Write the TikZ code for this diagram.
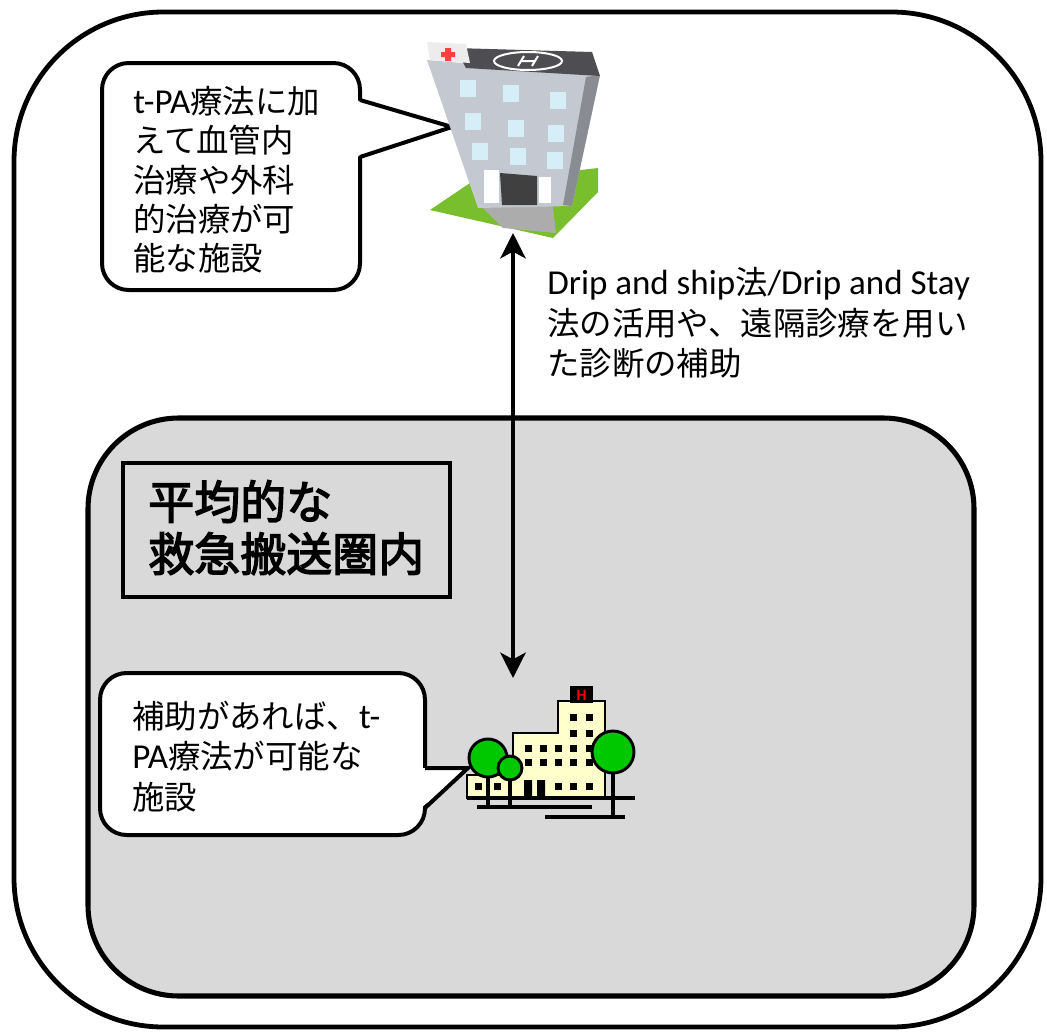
\documentclass[tikz,border=0pt]{standalone}
\usepackage{fontspec}
\setmainfont{Noto Sans CJK JP}
\newfontfamily\lat[Scale=1.08]{Carlito}
\newfontfamily\heavy[FakeBold=3]{Noto Sans CJK JP}
\usetikzlibrary{arrows.meta, fit}

\definecolor{zone}{RGB}{217,217,217}
\definecolor{lawn}{RGB}{120,190,45}
\definecolor{wall}{RGB}{196,200,208}
\definecolor{pane}{RGB}{214,238,248}
\definecolor{roof}{RGB}{78,78,82}
\definecolor{leaf}{RGB}{0,200,0}
\definecolor{cream}{RGB}{255,255,204}

\begin{document}
\begin{tikzpicture}[x=0.75pt, y=-0.75pt,
    bubble/.style={draw, fill=white, line width=3pt, rounded corners=20pt, inner sep=0pt},
    bubbleline/.style={line width=3pt, line join=miter},
    note/.style={anchor=north west, inner sep=0pt, align=left, font=\fontsize{24.3}{29.5}\selectfont},
    link/.style={line width=3pt, {Stealth[length=19pt,width=19pt,inset=5pt]}-{Stealth[length=19pt,width=19pt,inset=5pt]}},
    outline/.style={line width=2.2pt, line join=miter}]
  \useasboundingbox (0,0) rectangle (1047,1032);

  % outer region and transport area
  \draw[line width=3.6pt, rounded corners=112pt] (14,12) rectangle (1041,1027);
  \draw[line width=3.8pt, fill=zone, rounded corners=68pt] (88,418) rectangle (974,996);

  \node[draw, line width=3pt, inner sep=0pt, fit={(123,463) (450,597)}] (areabox) {};
  \node[anchor=north west, inner sep=0pt, align=left, font=\heavy\fontsize{34.5}{39}\selectfont]
    (areatext) at (148,480) {平均的な\\救急搬送圏内};

  % callout of the stroke centre
  \node[bubble, fit={(102,63) (360,290)}] (farnote) {};
  \coordinate (fartip) at (452,127);
  \fill[white] (356,100) -- (fartip) -- (356,157) -- cycle;
  \draw[bubbleline] (360,100) -- (fartip) -- (360,157);
  \node[note] (fartext) at (133,86) {{\lat t-PA}療法に加\\えて血管内\\治療や外科\\的治療が可\\能な施設};

  % callout of the local hospital
  \node[bubble, fit={(100,673) (425,835)}] (nearnote) {};
  \coordinate (neartip) at (468,768);
  \fill[white] (421,768) -- (neartip) -- (421,808) -- cycle;
  \draw[bubbleline] (425,768) -- (neartip) -- (425,808);
  \node[note, font=\fontsize{24.3}{30.2}\selectfont] (neartext) at (132,701) {補助があれば、{\lat t-}\\{\lat PA}療法が可能な\\施設};

  \node[note, font=\fontsize{24.3}{30.5}\selectfont] (linktext) at (547,267) {{\lat Drip and ship}法{\lat /Drip and Stay}\\法の活用や、遠隔診療を用い\\た診断の補助};

  % big hospital
  \fill[lawn] (430,210) -- (470,183) -- (598,168) -- (598,192) -- (553,238) -- cycle;
  \fill[gray!65] (478,203) -- (552,200) -- (556,233) -- (503,228) -- cycle;
  \fill[wall] (427,60) -- (600,75) -- (572,206) -- (478,208) -- cycle;
  \fill[wall!70!black] (586,77) -- (600,75) -- (572,206) -- (563,205) -- cycle;
  \fill[roof] (455,48) -- (592,52) -- (600,76) -- (466,68) -- cycle;
  \draw[white, line width=1.5pt] (528,61) ellipse [x radius=34, y radius=9];
  \draw[white, line width=1.5pt] (518,66) -- (524,56) (532,66) -- (538,56) (521,61) -- (535,61);
  \fill[gray!15] (427,42) -- (466,44) -- (470,63) -- (430,60) -- cycle;
  \fill[red!75] (445,48) rectangle (451,61) (441,52) rectangle (455,57);
  \foreach \x/\y in {460/80, 503/85, 550/92, 465/113, 508/120, 548/125, 472/143, 510/148, 547/152}
    \fill[pane] (\x,\y) rectangle ++(16,17);
  \fill[white] (484,170) rectangle (499,203);
  \fill[white] (539,177) rectangle (551,203);
  \fill[black!75] (500,173) -- (537,176) -- (537,205) -- (502,205) -- cycle;

  % local hospital
  \draw[outline, fill=cream] (467,798) -- (467,775) -- (513,775) -- (513,733) -- (558,733)
    -- (558,701) -- (605,701) -- (605,798) -- cycle;
  \fill (570,686) rectangle (593,703);
  \node[text=red, inner sep=0pt, font=\lat\bfseries\fontsize{11}{11}\selectfont] (hsign) at (581.5,695) {H};
  \foreach \x/\y in {573/717, 589/717, 573/733, 589/733,
      528/748, 543/748, 558/748, 573/748, 589/748,
      528/762, 543/762, 558/762, 573/762, 589/762,
      478/786, 497/786, 558/786, 573/786, 589/786}
    \fill (\x-3.5,\y-3.5) rectangle ++(7,7);
  \fill (524,780) rectangle (532,798) (537,780) rectangle (545,798);
  \draw[line width=3pt] (467,798) -- (635,798) (477,807) -- (592,807) (545,817) -- (625,817);
  \draw[line width=2.5pt] (488,760) -- (488,807) (510,768) -- (510,807) (613,752) -- (613,817);
  \draw[outline, fill=leaf] (488,758) circle [radius=19];
  \draw[outline, fill=leaf] (510,768) circle [radius=12];
  \draw[outline, fill=leaf] (613,752) circle [radius=21];

  \coordinate (farend) at (513,233);
  \coordinate (nearend) at (513,678);
  \draw[link] (farend) -- (nearend);
\end{tikzpicture}
\end{document}
